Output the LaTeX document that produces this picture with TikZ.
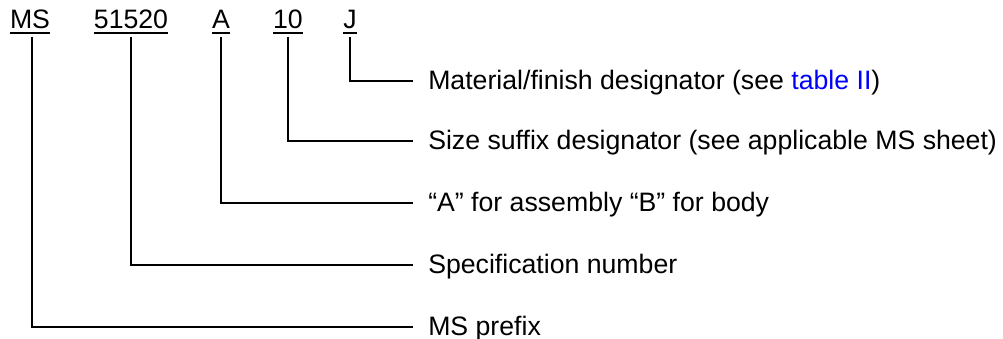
\documentclass[tikz,border=0pt]{standalone}
\usepackage{fontspec}
\setmainfont{Liberation Sans}
\definecolor{linkblue}{RGB}{0,0,255}
\begin{document}
\begin{tikzpicture}[x=0.75pt,y=-0.75pt,
  font=\fontsize{20pt}{24pt}\selectfont,
  partlbl/.style={anchor=base,inner sep=0pt},
  desclbl/.style={anchor=base west,inner sep=0pt},
  uline/.style={line width=1pt},
  conn/.style={line width=1.5pt}]
\useasboundingbox (0,0) rectangle (1003,339);

% part number fields
\node[partlbl] (ms)   at (30,28.3)  {MS};
\node[partlbl] (spec) at (131,28.3) {51520};
\node[partlbl] (asm)  at (221,28.3) {A};
\node[partlbl] (size) at (288,28.3) {10};
\node[partlbl] (fin)  at (350,28.3) {J};

% underlines below the fields
\foreach \n in {ms,spec,asm,size,fin}
  \draw[uline] ([yshift=-3.5pt]\n.base west) -- ([yshift=-3.5pt]\n.base east);

% field descriptions
\node[desclbl] (dfin)  at (428,89)  {Material/finish designator (see \textcolor{linkblue}{table II})};
\node[desclbl] (dsize) at (428,149) {Size suffix designator (see applicable MS sheet)};
\node[desclbl] (dasm)  at (428,211) {“A” for assembly “B” for body};
\node[desclbl] (dspec) at (428,273) {Specification number};
\node[desclbl] (dms)   at (428,335) {MS prefix};

% leaders from each field to its description
\draw[conn] ([yshift=-6.5pt]fin.base)  |- ([xshift=-11.25pt,yshift=6pt]dfin.base west);
\draw[conn] ([yshift=-6.5pt]size.base) |- ([xshift=-11.25pt,yshift=6pt]dsize.base west);
\draw[conn] ([yshift=-6.5pt]asm.base)  |- ([xshift=-11.25pt,yshift=6pt]dasm.base west);
\draw[conn] ([yshift=-6.5pt]spec.base) |- ([xshift=-11.25pt,yshift=6pt]dspec.base west);
\draw[conn] ([xshift=1.5pt,yshift=-6.5pt]ms.base) |- ([xshift=-11.25pt,yshift=6pt]dms.base west);
\end{tikzpicture}
\end{document}
